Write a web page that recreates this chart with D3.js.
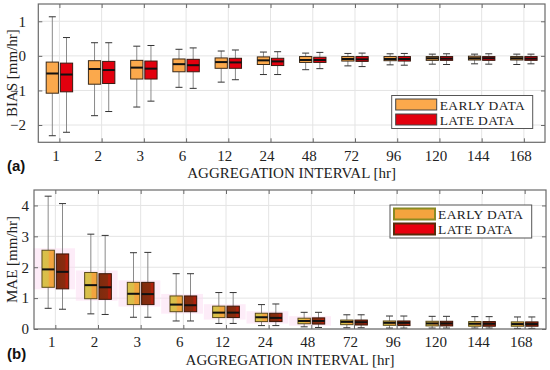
<!DOCTYPE html>
<html>
<head>
<meta charset="utf-8">
<script src="https://cdn.jsdelivr.net/npm/d3@7"></script>
<style>
  body { margin: 0; background: #fff; }
  svg { display: block; font-family: "Liberation Serif", "DejaVu Serif", serif; }
</style>
</head>
<body>
<svg id="chart" width="550" height="370"></svg>
<script>
// categories (aggregation interval, hr)
const intervals = ["1", "2", "3", "6", "12", "24", "48", "72", "96", "120", "144", "168"];

// box stats per interval: [whiskerLow, q1, median, q3, whiskerHigh]
const biasEarly = [
  [-2.31, -1.08, -0.51, -0.18, 1.13], [-1.73, -0.82, -0.38, -0.14, 0.38],
  [-1.48, -0.67, -0.34, -0.13, 0.28], [-0.91, -0.46, -0.24, -0.09, 0.19],
  [-0.76, -0.36, -0.18, -0.06, 0.14], [-0.54, -0.25, -0.13, -0.03, 0.11],
  [-0.40, -0.19, -0.12, -0.02, 0.08], [-0.29, -0.15, -0.09, -0.02, 0.07],
  [-0.26, -0.14, -0.09, -0.02, 0.06], [-0.24, -0.13, -0.07, -0.02, 0.05],
  [-0.23, -0.12, -0.07, -0.01, 0.05], [-0.25, -0.12, -0.07, -0.02, 0.05]
];
const biasLate = [
  [-2.21, -1.04, -0.54, -0.21, 0.53], [-1.61, -0.80, -0.41, -0.16, 0.38],
  [-1.31, -0.67, -0.37, -0.15, 0.30], [-0.94, -0.46, -0.27, -0.10, 0.23],
  [-0.69, -0.36, -0.19, -0.07, 0.17], [-0.54, -0.28, -0.16, -0.07, 0.12],
  [-0.37, -0.19, -0.12, -0.04, 0.10], [-0.31, -0.16, -0.10, -0.02, 0.08],
  [-0.27, -0.15, -0.09, -0.02, 0.07], [-0.25, -0.13, -0.08, -0.02, 0.06],
  [-0.24, -0.13, -0.07, -0.02, 0.06], [-0.23, -0.13, -0.08, -0.02, 0.05]
];
const maeEarly = [
  [0.67, 1.35, 1.93, 2.55, 4.30], [0.49, 0.98, 1.42, 1.83, 3.07],
  [0.38, 0.79, 1.14, 1.51, 2.47], [0.26, 0.56, 0.79, 1.07, 1.79],
  [0.18, 0.37, 0.53, 0.74, 1.18], [0.11, 0.24, 0.38, 0.51, 0.79],
  [0.07, 0.17, 0.26, 0.35, 0.54], [0.04, 0.14, 0.23, 0.29, 0.46],
  [0.03, 0.12, 0.20, 0.26, 0.42], [0.03, 0.10, 0.18, 0.25, 0.41],
  [0.03, 0.09, 0.17, 0.24, 0.40], [0.02, 0.09, 0.16, 0.23, 0.39]
];
const maeLate = [
  [0.64, 1.30, 1.85, 2.43, 4.06], [0.47, 0.96, 1.35, 1.79, 3.03],
  [0.38, 0.79, 1.13, 1.51, 2.48], [0.26, 0.56, 0.77, 1.07, 1.79],
  [0.18, 0.37, 0.53, 0.74, 1.18], [0.11, 0.24, 0.36, 0.51, 0.81],
  [0.05, 0.16, 0.26, 0.36, 0.54], [0.04, 0.13, 0.22, 0.29, 0.46],
  [0.03, 0.11, 0.20, 0.26, 0.42], [0.03, 0.10, 0.18, 0.25, 0.41],
  [0.03, 0.09, 0.17, 0.24, 0.40], [0.02, 0.09, 0.16, 0.23, 0.39]
];
const seriesNames = ["EARLY DATA", "LATE DATA"];
const biasTicks = [-2, -1, 0, 1];
const maeTicks = [0, 1, 2, 3, 4];

const svg = d3.select("#chart");

// gradients for the odd two-tone fills of panel (b)
const defs = svg.append("defs");
function grad(id, stops) {
  const g = defs.append("linearGradient").attr("id", id).attr("x1", "0").attr("x2", "1");
  stops.forEach(s => g.append("stop").attr("offset", s[0]).attr("stop-color", s[1]));
}
grad("gEarly", [[0, "#d6c24c"], [0.5, "#dcbc48"], [0.62, "#f2a43e"], [1, "#f2a43e"]]);
grad("gLate", [[0, "#7c2c0e"], [0.7, "#8a2a0e"], [0.78, "#b0200c"], [1, "#b0200c"]]);

function drawPanel(cfg) {
  const g = svg.append("g");
  const x = d3.scaleLinear().domain([0.5, 12.5]).range([cfg.left, cfg.right]);
  const y = d3.scaleLinear().domain(cfg.yDomain).range([cfg.bottom, cfg.top]);
  const unit = x(2) - x(1);
  const bw = unit * 0.29, off = unit * 0.168;
  const idx = d3.range(1, 13);

  // grid
  g.append("g").selectAll("line").data(idx).join("line")
    .attr("x1", d => x(d)).attr("x2", d => x(d))
    .attr("y1", cfg.top).attr("y2", cfg.bottom)
    .attr("stroke", "#e4e4e4").attr("stroke-width", 1);
  g.append("g").selectAll("line").data(cfg.yTicks).join("line")
    .attr("x1", cfg.left).attr("x2", cfg.right)
    .attr("y1", d => y(d)).attr("y2", d => y(d))
    .attr("stroke", "#e4e4e4").attr("stroke-width", 1);

  // pink smudges (panel b)
  if (cfg.shadow) {
    g.append("g").selectAll("rect").data(cfg.early.slice(0, 7)).join("rect")
      .attr("x", (d, i) => x(i + 1) - unit * 0.52)
      .attr("width", unit * 0.98)
      .attr("y", d => y(d[3]) - 2)
      .attr("height", d => y(d[1]) - y(d[3]) + 4)
      .attr("fill", "#fcdcf3").attr("opacity", 0.55);
  }

  const sets = [
    { data: cfg.early, dx: -off, fill: cfg.fills[0], stroke: cfg.strokes[0] },
    { data: cfg.late, dx: off, fill: cfg.fills[1], stroke: cfg.strokes[1] }
  ];
  sets.forEach(s => {
    const bg = g.append("g").selectAll("g").data(s.data).join("g")
      .attr("transform", (d, i) => `translate(${x(i + 1) + s.dx},0)`);
    bg.append("line").attr("y1", d => y(d[0])).attr("y2", d => y(d[1]))
      .attr("stroke", "#8a8a8a").attr("stroke-width", 1);
    bg.append("line").attr("y1", d => y(d[3])).attr("y2", d => y(d[4]))
      .attr("stroke", "#8a8a8a").attr("stroke-width", 1);
    bg.selectAll(".cap").data(d => [d[0], d[4]]).join("line").attr("class", "cap")
      .attr("x1", -3.5).attr("x2", 3.5)
      .attr("y1", v => y(v)).attr("y2", v => y(v))
      .attr("stroke", "#333").attr("stroke-width", 1);
    bg.append("rect").attr("x", -bw / 2).attr("width", bw)
      .attr("y", d => y(d[3])).attr("height", d => Math.max(1, y(d[1]) - y(d[3])))
      .attr("fill", s.fill).attr("stroke", s.stroke).attr("stroke-width", 1);
    bg.append("line").attr("x1", -bw / 2).attr("x2", bw / 2)
      .attr("y1", d => y(d[2])).attr("y2", d => y(d[2]))
      .attr("stroke", "#111").attr("stroke-width", 2);
  });

  // axes: box with inward ticks
  const tickLen = 4;
  g.append("rect").attr("x", cfg.left).attr("y", cfg.top)
    .attr("width", cfg.right - cfg.left).attr("height", cfg.bottom - cfg.top)
    .attr("fill", "none").attr("stroke", "#6a6a6a").attr("stroke-width", 1.2);
  const bAxis = g.append("g").attr("transform", `translate(0,${cfg.bottom})`)
    .call(d3.axisBottom(x).tickValues(idx).tickSizeInner(-tickLen).tickSizeOuter(0)
      .tickFormat(d => intervals[d - 1]));
  bAxis.select(".domain").remove();
  bAxis.selectAll(".tick line").attr("stroke", "#6a6a6a");
  bAxis.selectAll(".tick text").attr("dx", -4).attr("dy", 0).attr("y", cfg.tickBase)
    .attr("font-size", 15).attr("font-family", "Liberation Serif").attr("fill", "#222");
  const tAxis = g.append("g").attr("transform", `translate(0,${cfg.top})`)
    .call(d3.axisTop(x).tickValues(idx).tickSizeInner(-tickLen).tickSizeOuter(0).tickFormat(""));
  tAxis.select(".domain").remove();
  tAxis.selectAll(".tick line").attr("stroke", "#6a6a6a");

  const lAxis = g.append("g").attr("transform", `translate(${cfg.left},0)`)
    .call(d3.axisLeft(y).tickValues(cfg.yTicks).tickSizeInner(-tickLen).tickSizeOuter(0)
      .tickFormat(d3.format("d")));
  lAxis.select(".domain").remove();
  lAxis.selectAll(".tick line").attr("stroke", "#6a6a6a");
  lAxis.selectAll(".tick text").attr("x", cfg.yLabelX - cfg.left)
    .attr("font-size", 15).attr("font-family", "Liberation Serif").attr("fill", "#222");
  const rAxis = g.append("g").attr("transform", `translate(${cfg.right},0)`)
    .call(d3.axisRight(y).tickValues(cfg.yTicks).tickSizeInner(-tickLen).tickSizeOuter(0).tickFormat(""));
  rAxis.select(".domain").remove();
  rAxis.selectAll(".tick line").attr("stroke", "#6a6a6a");

  // labels
  g.append("text").attr("x", (cfg.left + cfg.right) / 2).attr("y", cfg.titleY)
    .attr("text-anchor", "middle").attr("font-size", 15).attr("fill", "#222")
    .text("AGGREGATION INTERVAL [hr]");
  g.append("text")
    .attr("transform", `translate(17,${(cfg.top + cfg.bottom) / 2}) rotate(-90)`)
    .attr("text-anchor", "middle").attr("font-size", 15).attr("fill", "#222")
    .text(cfg.yLabel);
  g.append("text").attr("x", 7).attr("y", cfg.tagY)
    .attr("font-size", 15).attr("font-weight", "bold").attr("font-family", "Liberation Sans")
    .attr("fill", "#111").text(cfg.tag);

  // legend
  const L = cfg.legend;
  const rowH = 15;
  const lg = g.append("g").attr("transform", `translate(${L.x},${L.y})`);
  lg.append("rect").attr("width", L.w).attr("height", L.h)
    .attr("fill", "#fff").attr("stroke", "#555").attr("stroke-width", 1);
  seriesNames.forEach((name, i) => {
    lg.append("rect").attr("x", 4).attr("y", 3.5 + i * rowH).attr("width", 41).attr("height", 11)
      .attr("fill", cfg.legendFills[i]).attr("stroke", cfg.legendStrokes[i])
      .attr("stroke-width", cfg.legendStrokeW);
    lg.append("text").attr("x", 48).attr("y", 14 + i * rowH)
      .attr("font-size", 13.5).attr("letter-spacing", 0.4).attr("fill", "#222").text(name);
  });
}

drawPanel({
  left: 38.3, right: 545, top: 4, bottom: 142.3,
  yDomain: [-2.5, 1.5], yTicks: biasTicks,
  early: biasEarly, late: biasLate,
  fills: ["#fba94c", "#e2000e"], strokes: ["#3a2a1a", "#3a1a10"],
  tickBase: 18.5, yLabelX: 26, titleY: 178, tagY: 171,
  yLabel: "BIAS [mm/hr]", tag: "(a)",
  legend: { x: 391.7, y: 95.5, w: 141, h: 33 },
  legendFills: ["#fba94c", "#e2000e"], legendStrokes: ["#444", "#444"], legendStrokeW: 1
});

drawPanel({
  left: 34, right: 546, top: 190, bottom: 329,
  yDomain: [0, 4.5], yTicks: maeTicks,
  early: maeEarly, late: maeLate,
  fills: ["url(#gEarly)", "url(#gLate)"], strokes: ["#5a4a1a", "#3a1406"],
  tickBase: 18, yLabelX: 29, titleY: 365, tagY: 359,
  yLabel: "MAE [mm/hr]", tag: "(b)", shadow: true,
  legend: { x: 390, y: 205, w: 141.7, h: 33 },
  legendFills: ["#f4a43e", "#e8000e"], legendStrokes: ["#8a8a22", "#5a2a0a"], legendStrokeW: 2
});
</script>
</body>
</html>
